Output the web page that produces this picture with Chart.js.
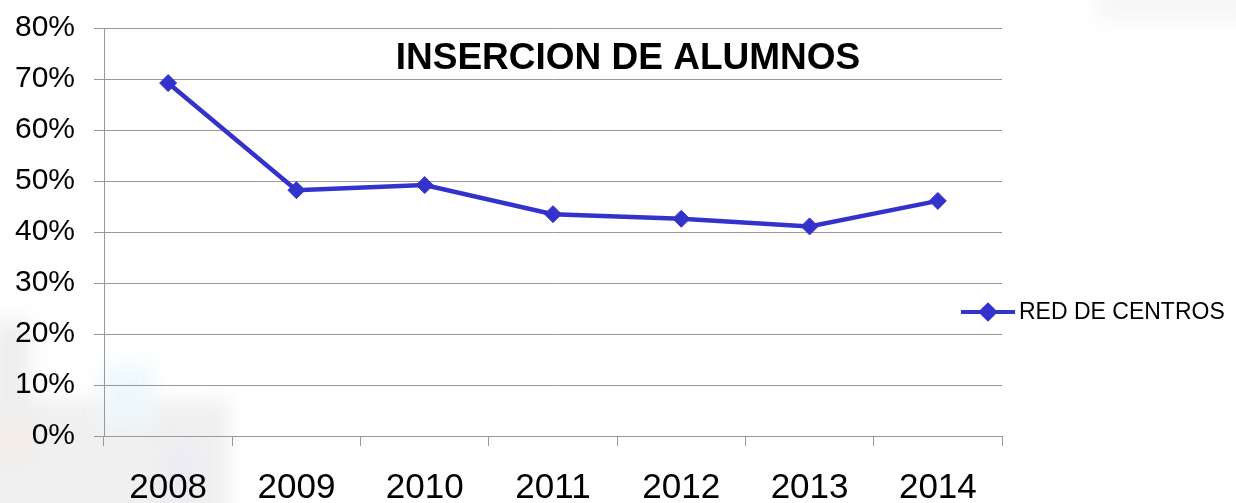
<!DOCTYPE html>
<html>
<head>
<meta charset="utf-8">
<script src="https://cdn.jsdelivr.net/npm/chart.js@4"></script>
<style>
    html, body { margin: 0; padding: 0; background: #fff; }
    #wrap { position: relative; width: 1236px; height: 503px; overflow: hidden; }
    .smudge { position: absolute; filter: blur(10px); }
    canvas { position: absolute; left: 0; top: 0; }
</style>
</head>
<body>
<div id="wrap">
    <!-- faint blurred photo behind the chart -->
    <div class="smudge" style="left:-20px;top:400px;width:250px;height:130px;background:#f0f0f0;"></div>
    <div class="smudge" style="left:-10px;top:320px;width:40px;height:110px;background:#eeeeee;"></div>
    <div class="smudge" style="left:100px;top:365px;width:55px;height:60px;background:#eef8fc;"></div>
    <div class="smudge" style="left:0;top:428px;width:28px;height:26px;background:#f6ebe2;"></div>
    <div class="smudge" style="left:165px;top:445px;width:30px;height:60px;background:#ecebf5;"></div>
    <div class="smudge" style="left:1095px;top:-10px;width:160px;height:30px;background:#f6f6f6;"></div>
    <canvas id="chart" width="1236" height="503"></canvas>
</div>
<script>
// Chart data
const years = ['2008', '2009', '2010', '2011', '2012', '2013', '2014'];
const insercion = [69.2, 48.2, 49.2, 43.5, 42.6, 41.1, 46.1];
const seriesName = 'RED DE CENTROS';
const chartTitle = 'INSERCION DE ALUMNOS';

const FONT = 'Arial, "Liberation Sans", sans-serif';
const gridGray = '#999999';

// Title and legend are drawn by hand, both sit on top of the plot area
const overlayPlugin = {
    id: 'overlay',
    afterDraw(chart) {
        const ctx = chart.ctx;
        const ds = chart.data.datasets[0];
        ctx.save();

        // title
        ctx.fillStyle = '#000';
        ctx.font = 'bold 37px ' + FONT;
        ctx.textAlign = 'center';
        ctx.textBaseline = 'middle';
        ctx.fillText(chartTitle, 628, 59);

        // legend entry
        const ly = 312;
        ctx.strokeStyle = ds.borderColor;
        ctx.lineWidth = 4;
        ctx.beginPath();
        ctx.moveTo(961, ly);
        ctx.lineTo(1015, ly);
        ctx.stroke();
        Chart.helpers.drawPoint(ctx, { pointStyle: 'rectRot', radius: 7, borderWidth: 1 }, 988, ly);
        ctx.fillStyle = ds.pointBackgroundColor;
        ctx.fill();

        ctx.fillStyle = '#000';
        ctx.font = '23px ' + FONT;
        ctx.textAlign = 'left';
        ctx.fillText(ds.label, 1019, ly + 1);
        ctx.restore();
    }
};

new Chart(document.getElementById('chart'), {
    type: 'line',
    data: {
        labels: years,
        datasets: [{
            label: seriesName,
            data: insercion,
            borderColor: '#3333cc',
            backgroundColor: '#3333cc',
            pointBackgroundColor: '#3333cc',
            pointBorderColor: '#3333cc',
            borderWidth: 4.5,
            pointStyle: 'rectRot',
            pointRadius: 8.5,
            pointBorderWidth: 1,
            tension: 0
        }]
    },
    options: {
        responsive: false,
        animation: false,
        layout: {
            padding: { top: 28, right: 234, bottom: 0, left: 0 }
        },
        plugins: {
            legend: { display: false },
            title: { display: false },
            tooltip: { enabled: false }
        },
        scales: {
            x: {
                offset: true,
                grid: {
                    offset: true,
                    drawOnChartArea: false,
                    drawTicks: true,
                    tickLength: 10,
                    color: gridGray
                },
                border: { display: true, color: gridGray, width: 1 },
                ticks: {
                    color: '#000',
                    padding: 21,
                    font: { family: FONT, size: 35 }
                },
                afterFit: function(scale) { scale.height = 67; }
            },
            y: {
                min: 0,
                max: 80,
                grid: {
                    color: gridGray,
                    tickLength: 10
                },
                border: { display: true, color: gridGray, width: 1 },
                ticks: {
                    stepSize: 10,
                    color: '#000',
                    padding: 19,
                    font: { family: FONT, size: 30 },
                    callback: v => v + '%'
                },
                afterFit: function(scale) {
                    scale.width = 104;
                    // label overhang is already covered by the layout padding
                    scale.paddingTop = 0;
                    scale.paddingBottom = 0;
                }
            }
        }
    },
    plugins: [overlayPlugin]
});
</script>
</body>
</html>
